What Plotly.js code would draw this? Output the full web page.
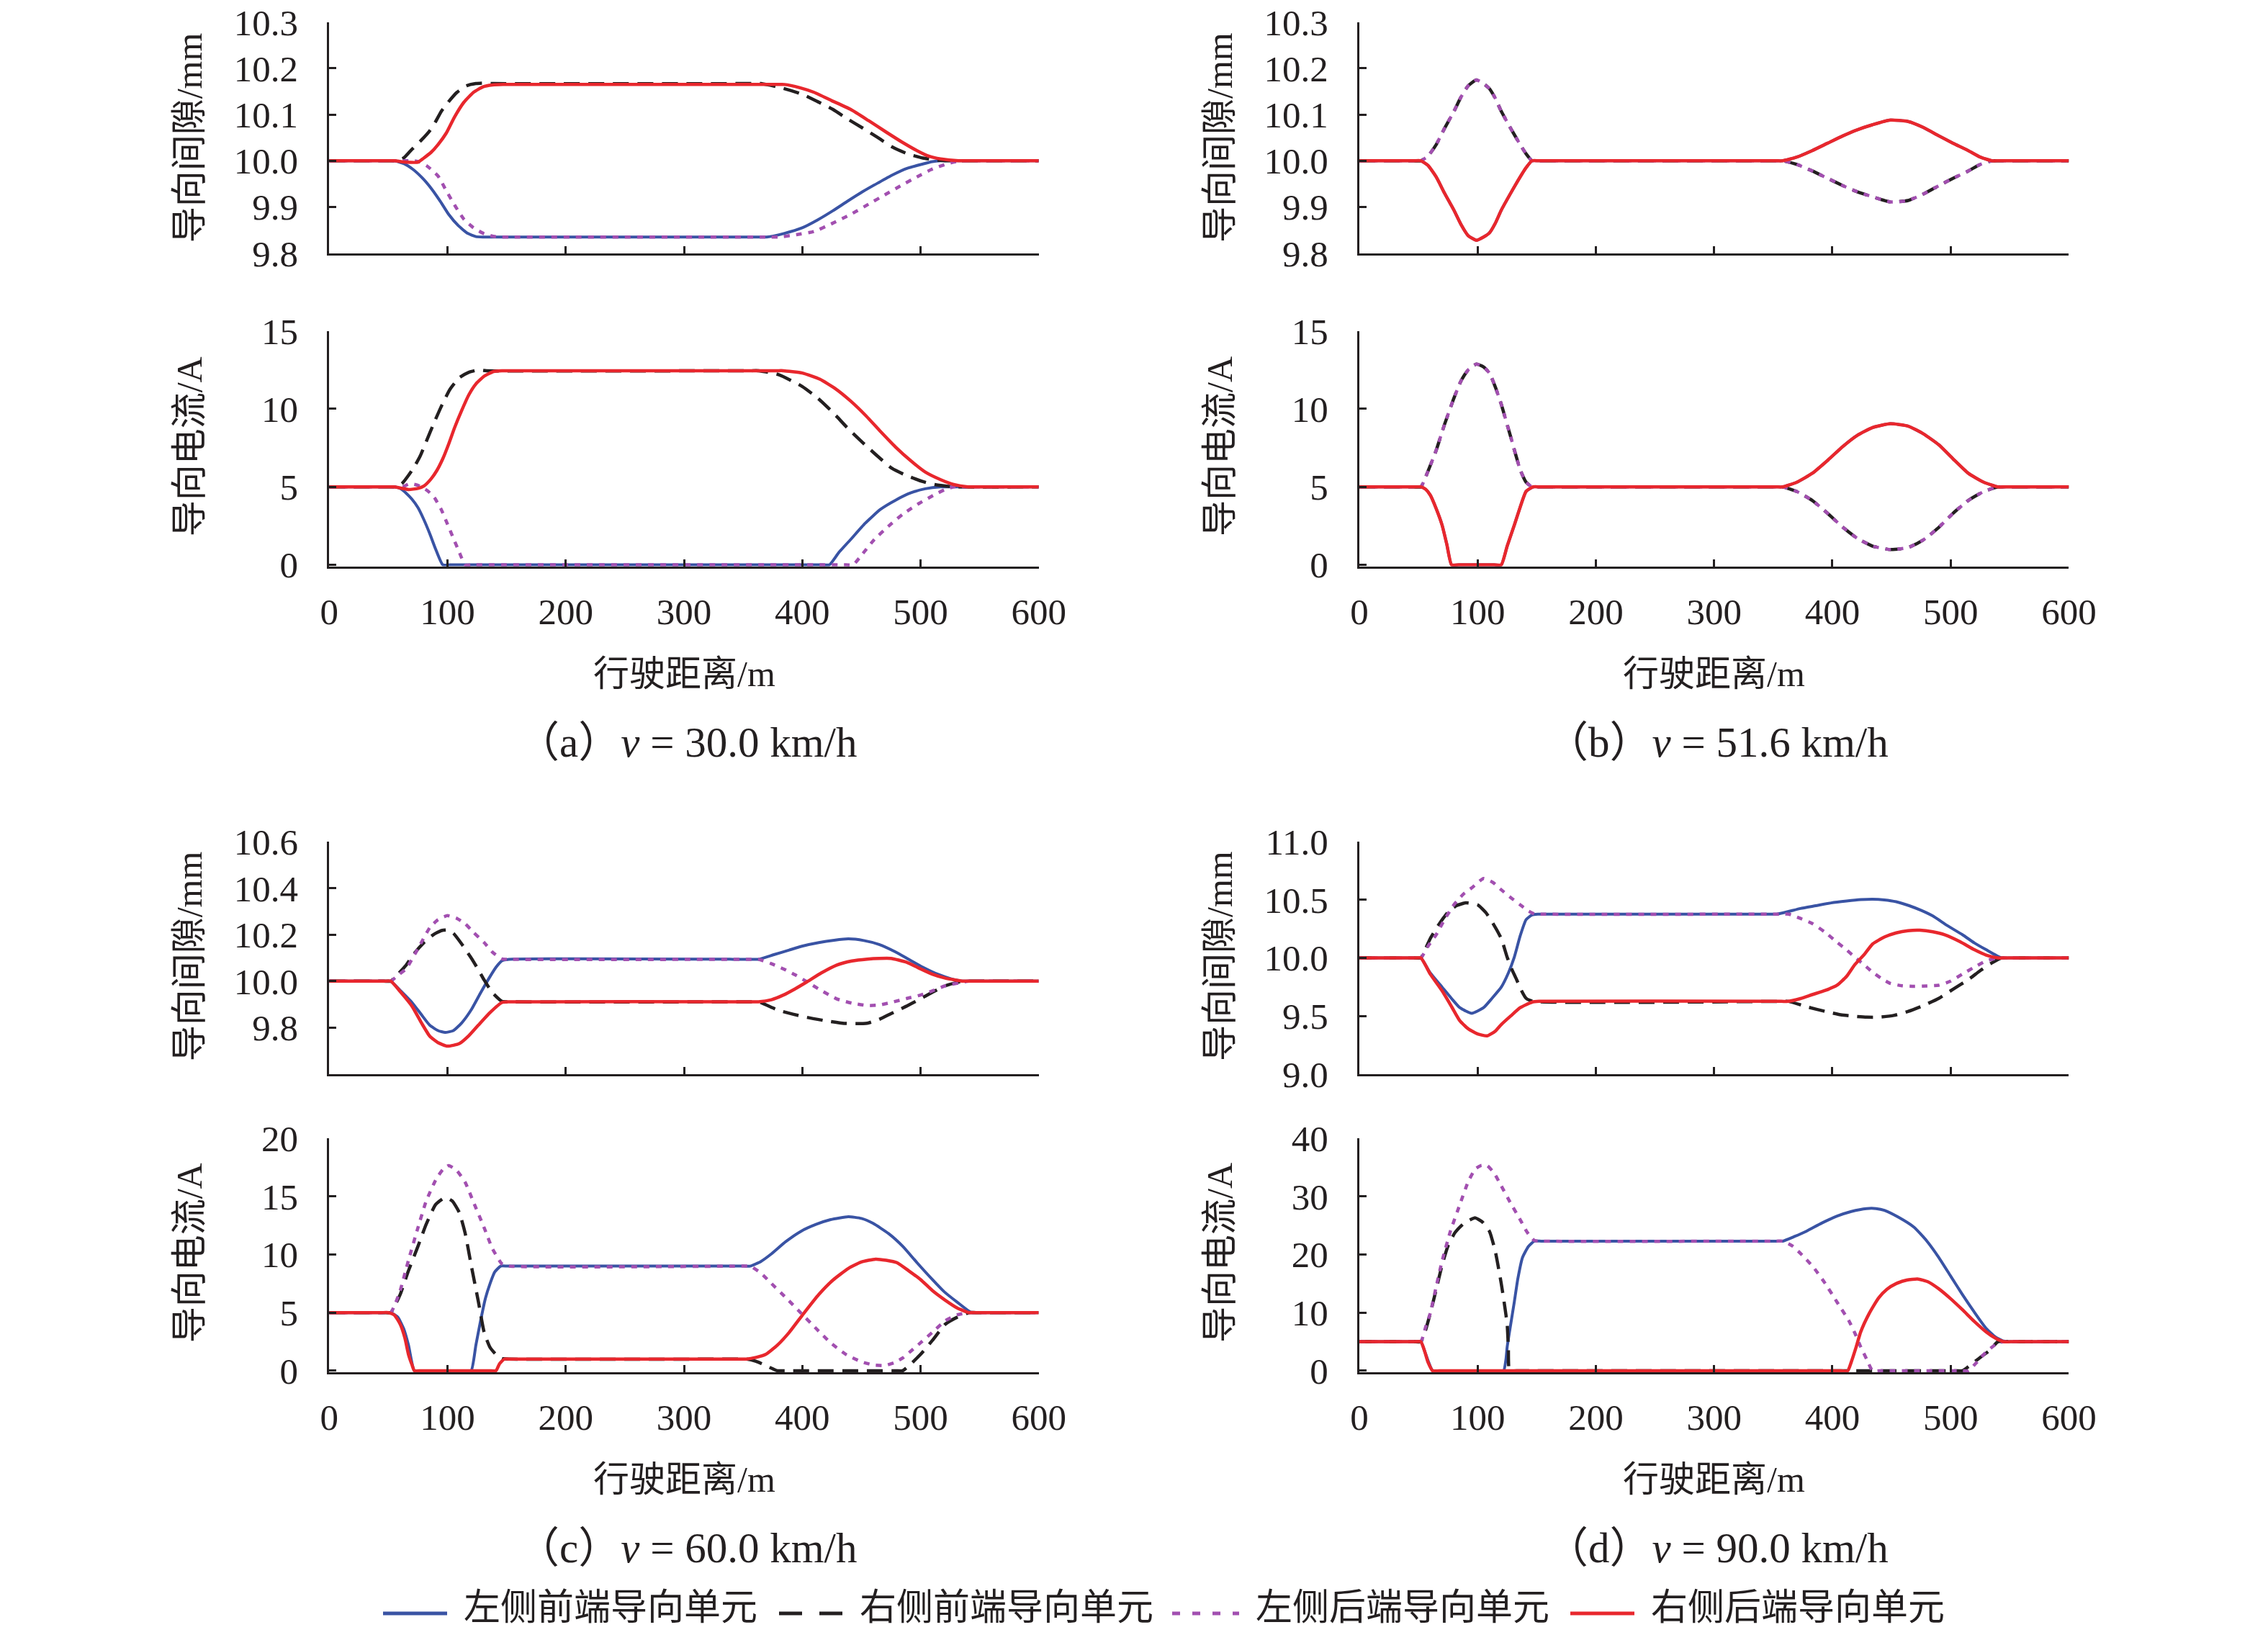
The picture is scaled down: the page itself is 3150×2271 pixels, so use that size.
<!DOCTYPE html>
<html>
<head>
<meta charset="utf-8">
<script src="https://cdn.plot.ly/plotly-3.0.1.min.js"></script>
<style>html,body{margin:0;padding:0;background:#fff;}#chart{width:3150px;height:2271px;}</style>
</head>
<body>
<div id="chart"></div>
<script>
// ---------------- DATA ----------------
// lf = 左侧前端导向单元 (blue), rf = 右侧前端导向单元 (black dashed),
// lr = 左侧后端导向单元 (purple dotted), rr = 右侧后端导向单元 (red)

// (a) v = 30.0 km/h — guide gap (mm)
const a_gap_lf_x = [0,48,55,63,71,79,86,94,101,109,117,124,130,137,363,370,385,400,413,426,438,451,464,476,489,502,510,517,524,600];
const a_gap_lf_y = [10,10,10,9.994,9.981,9.962,9.941,9.912,9.884,9.86,9.843,9.836,9.835,9.835,9.835,9.835,9.843,9.855,9.872,9.892,9.912,9.933,9.952,9.969,9.984,9.993,9.998,10,10,10];
const a_gap_rf_x = [0,50,57,63,70,78,85,90,95,101,108,116,124,132,139,358,365,382,400,413,426,438,451,464,476,489,502,512,522,529,600];
const a_gap_rf_y = [10,10,10,10.006,10.025,10.045,10.065,10.085,10.108,10.128,10.148,10.162,10.167,10.168,10.167,10.167,10.167,10.158,10.144,10.128,10.111,10.091,10.071,10.05,10.03,10.015,10.006,10.002,10,10,10];
const a_gap_lr_x = [0,65,72,76,83,92,99,107,114,122,131,140,146,152,373,380,395,410,425,441,456,471,484,497,509,522,530,537,544,600];
const a_gap_lr_y = [10,10,10,9.998,9.988,9.967,9.935,9.9,9.873,9.855,9.842,9.836,9.835,9.835,9.835,9.835,9.84,9.847,9.864,9.884,9.906,9.928,9.947,9.965,9.981,9.993,9.998,10,10,10];
const a_gap_rr_x = [0,48,55,65,75,80,86,92,99,106,114,122,130,138,147,153,378,385,398,410,425,441,456,471,484,497,507,517,532,539,600];
const a_gap_rr_y = [10,10,10,9.997,9.997,10.006,10.018,10.035,10.06,10.095,10.127,10.148,10.16,10.164,10.165,10.165,10.165,10.165,10.158,10.148,10.13,10.111,10.087,10.062,10.041,10.022,10.01,10.004,10,10,10];
// (a) guide current (A)
const a_cur_lf_x = [0,48,55,60,65,70,75,80,85,90,96,102,417,423,431,441,453,466,479,492,504,517,524,600];
const a_cur_lf_y = [5,5,5,4.9,4.6,4.2,3.67,2.9,2.0,1.0,0,0,0,0,0.8,1.63,2.65,3.55,4.15,4.62,4.88,5,5,5];
const a_cur_rf_x = [0,50,57,62,67,72,77,82,88,95,102,110,118,126,133,356,363,380,400,413,426,438,451,464,476,489,502,512,522,529,600];
const a_cur_rf_y = [5,5,5,5.25,5.74,6.3,7.0,7.9,9.0,10.2,11.25,12.0,12.35,12.5,12.45,12.45,12.45,12.2,11.44,10.7,9.77,8.8,7.85,6.95,6.18,5.7,5.34,5.15,5.05,5,5];
const a_cur_lr_x = [0,55,62,68,75,83,89,95,100,105,110,115,121,437,443,451,461,474,486,499,512,520,528,535,600];
const a_cur_lr_y = [5,5,5,5.2,5.1,4.76,4.3,3.5,2.6,1.7,0.8,0,0,0,0,0.7,1.63,2.55,3.3,3.95,4.5,4.8,5,5,5];
const a_cur_rr_x = [0,48,55,62,67,75,80,86,91,96,101,106,112,118,124,131,139,146,153,378,384,400,415,428,441,454,466,479,492,504,517,528,540,547,600];
const a_cur_rr_y = [5,5,5,4.9,4.83,4.9,5.05,5.5,6.05,6.8,7.75,8.8,9.9,10.9,11.6,12.1,12.4,12.45,12.45,12.45,12.45,12.3,11.9,11.3,10.5,9.55,8.57,7.55,6.66,5.95,5.46,5.15,5,5,5];

// (b) v = 51.6 km/h — guide gap (mm)
const b_gap_lf_x = [0,46,52,58,65,72,80,86,92,99,105,110,115,120,128,136,141,146,152,352,358,370,383,396,409,421,434,449,464,477,490,502,515,525,535,541,600];
const b_gap_lf_y = [10,10,10,9.99,9.965,9.93,9.893,9.862,9.838,9.828,9.835,9.844,9.865,9.893,9.93,9.965,9.985,10,10,10,10,10.008,10.022,10.038,10.054,10.067,10.078,10.088,10.085,10.072,10.054,10.038,10.022,10.008,10,10,10];
const b_gap_rf_x = [0,46,52,58,65,72,80,86,92,99,105,110,115,120,128,136,141,146,152,352,358,370,383,396,409,421,434,449,464,477,490,502,515,525,535,541,600];
const b_gap_rf_y = [10,10,10,10.01,10.035,10.07,10.107,10.138,10.162,10.175,10.167,10.156,10.135,10.107,10.07,10.035,10.015,10,10,10,10,9.992,9.978,9.962,9.946,9.933,9.922,9.911,9.914,9.928,9.946,9.962,9.978,9.992,10,10,10];
const b_gap_lr_x = [0,46,52,58,65,72,80,86,92,99,105,110,115,120,128,136,141,146,152,352,358,370,383,396,409,421,434,449,464,477,490,502,515,525,535,541,600];
const b_gap_lr_y = [10,10,10,10.01,10.035,10.07,10.107,10.138,10.162,10.175,10.167,10.156,10.135,10.107,10.07,10.035,10.015,10,10,10,10,9.992,9.978,9.962,9.946,9.933,9.922,9.911,9.914,9.928,9.946,9.962,9.978,9.992,10,10,10];
const b_gap_rr_x = [0,46,52,58,65,72,80,86,92,99,105,110,115,120,128,136,141,146,152,352,358,370,383,396,409,421,434,449,464,477,490,502,515,525,535,541,600];
const b_gap_rr_y = [10,10,10,9.99,9.965,9.93,9.893,9.862,9.838,9.828,9.835,9.844,9.865,9.893,9.93,9.965,9.985,10,10,10,10,10.008,10.022,10.038,10.054,10.067,10.078,10.088,10.085,10.072,10.054,10.038,10.022,10.008,10,10,10];
// (b) guide current (A)
const b_cur_lf_x = [0,46,52,56,60,65,70,74,78,84,114,120,125,131,136,141,147,153,352,358,370,383,396,409,421,434,449,464,477,490,502,515,528,540,546,600];
const b_cur_lf_y = [5,5,5,4.85,4.47,3.6,2.54,1.3,0,0,0,0,1.2,2.54,3.7,4.71,5,5,5,5,5.3,5.87,6.7,7.6,8.3,8.8,9.05,8.9,8.4,7.7,6.8,5.87,5.3,5,5,5];
const b_cur_rf_x = [0,46,52,58,65,72,80,86,92,99,105,110,115,120,128,136,141,146,152,352,358,370,383,396,409,421,434,449,464,477,490,502,515,528,540,546,600];
const b_cur_rf_y = [5,5,5,6.0,7.35,9.0,10.7,11.8,12.5,12.87,12.7,12.3,11.4,10.3,8.2,6.1,5.3,5,5,5,5,4.7,4.13,3.3,2.4,1.7,1.2,0.98,1.1,1.6,2.4,3.3,4.13,4.7,5,5,5];
const b_cur_lr_x = [0,46,52,58,65,72,80,86,92,99,105,110,115,120,128,136,141,146,152,352,358,370,383,396,409,421,434,449,464,477,490,502,515,528,540,546,600];
const b_cur_lr_y = [5,5,5,6.0,7.35,9.0,10.7,11.8,12.5,12.87,12.7,12.3,11.4,10.3,8.2,6.1,5.3,5,5,5,5,4.7,4.13,3.3,2.4,1.7,1.2,0.98,1.1,1.6,2.4,3.3,4.13,4.7,5,5,5];
const b_cur_rr_x = [0,46,52,56,60,65,70,74,78,84,114,120,125,131,136,141,147,153,352,358,370,383,396,409,421,434,449,464,477,490,502,515,528,540,546,600];
const b_cur_rr_y = [5,5,5,4.85,4.47,3.6,2.54,1.3,0,0,0,0,1.2,2.54,3.7,4.71,5,5,5,5,5.3,5.87,6.7,7.6,8.3,8.8,9.05,8.9,8.4,7.7,6.8,5.87,5.3,5,5,5];

// (c) v = 60.0 km/h — guide gap (mm)
const c_gap_lf_x = [0,46,52,60,70,78,85,92,98,105,112,120,128,136,141,146,152,357,363,376,389,401,414,427,439,452,465,478,490,502,515,526,536,542,600];
const c_gap_lf_y = [10,10,10,9.96,9.908,9.855,9.81,9.787,9.779,9.787,9.82,9.876,9.95,10.02,10.06,10.088,10.094,10.094,10.094,10.114,10.134,10.152,10.166,10.176,10.182,10.175,10.158,10.128,10.094,10.06,10.029,10.01,10,10,10];
const c_gap_rf_x = [0,46,52,58,65,72,80,88,95,100,105,112,120,126,131,138,146,152,357,363,379,392,404,419,434,445,455,465,475,488,500,510,521,536,542,600];
const c_gap_rf_y = [10,10,10,10.03,10.069,10.12,10.166,10.2,10.218,10.22,10.206,10.16,10.1,10.05,10.005,9.95,9.913,9.911,9.911,9.911,9.876,9.858,9.844,9.83,9.819,9.817,9.819,9.835,9.86,9.892,9.924,9.952,9.98,10,10,10];
const c_gap_lr_x = [0,46,52,58,65,75,85,92,100,108,115,122,131,138,146,152,357,363,374,384,394,404,416,429,442,455,465,475,488,500,510,521,541,547,600];
const c_gap_lr_y = [10,10,10,10.025,10.053,10.14,10.23,10.265,10.282,10.27,10.247,10.21,10.166,10.125,10.096,10.094,10.094,10.094,10.075,10.053,10.027,9.997,9.96,9.924,9.905,9.895,9.897,9.908,9.925,9.94,9.958,9.98,10,10,10];
const c_gap_rr_x = [0,46,52,60,70,78,85,92,100,110,118,126,136,146,152,357,363,374,384,394,404,416,429,442,455,465,475,488,500,510,521,536,542,600];
const c_gap_rr_y = [10,10,10,9.955,9.892,9.82,9.763,9.735,9.72,9.731,9.765,9.81,9.865,9.908,9.911,9.911,9.911,9.92,9.94,9.967,9.997,10.035,10.069,10.087,10.095,10.098,10.098,10.082,10.053,10.03,10.013,10,10,10];
// (c) guide current (A)
const c_cur_lf_x = [0,46,52,58,63,67,72,78,114,120,124,128,132,136,140,145,151,350,356,365,374,386,399,412,424,439,450,460,473,485,497,510,520,531,543,549,600];
const c_cur_lf_y = [5,5,5,4.6,3.6,2.2,0,0,0,0,2.2,4.3,6.2,7.5,8.5,9.0,9.0,9.0,9.0,9.4,10.06,11.1,12.0,12.6,13.0,13.25,13.1,12.67,11.8,10.7,9.3,7.85,6.8,5.9,5,5,5];
const c_cur_rf_x = [0,46,52,56,60,67,75,82,90,98,104,110,115,120,126,131,136,141,146,152,347,353,361,369,379,385,479,485,492,500,510,521,531,541,547,600];
const c_cur_rf_y = [5,5,5,5.7,6.56,8.6,10.7,12.6,14.3,14.9,14.6,13.6,11.8,9.1,6.0,3.3,2.0,1.4,1.05,1.0,1.0,1.0,0.8,0.45,0,0,0,0,0.6,1.4,2.6,4.0,4.6,5,5,5];
const c_cur_lr_x = [0,46,52,56,60,67,75,82,90,96,101,108,115,122,131,138,146,152,350,356,365,374,386,399,412,424,437,450,460,470,478,485,492,500,510,521,531,541,547,600];
const c_cur_lr_y = [5,5,5,5.8,6.9,9.5,12.3,14.6,16.4,17.3,17.65,17.2,16.2,14.5,12.3,10.5,9.2,9.0,9.0,9.0,8.4,7.5,6.3,4.95,3.6,2.4,1.4,0.77,0.5,0.45,0.7,1.1,1.7,2.4,3.3,4.3,4.8,5,5,5];
const c_cur_rr_x = [0,44,50,55,60,64,67,70,72,78,135,141,144,148,154,347,353,361,369,379,389,401,414,426,439,450,462,471,480,490,500,510,521,531,541,547,600];
const c_cur_rr_y = [5,5,5,4.8,4.0,2.8,1.4,0.5,0,0,0,0,0.6,1.0,1.0,1.0,1.0,1.15,1.4,2.2,3.3,4.9,6.56,7.8,8.8,9.35,9.6,9.5,9.3,8.6,7.85,6.9,6.06,5.4,5,5,5];

// (d) v = 90.0 km/h — guide gap (mm)
const d_gap_lf_x = [0,46,52,60,70,78,85,95,105,112,120,126,131,136,141,146,151,157,347,353,363,373,386,399,412,424,434,444,454,465,475,485,497,510,520,530,543,549,600];
const d_gap_lf_y = [10,10,10,9.87,9.748,9.65,9.571,9.523,9.571,9.65,9.748,9.87,10.006,10.19,10.33,10.37,10.377,10.377,10.377,10.377,10.4,10.426,10.45,10.474,10.49,10.502,10.506,10.5,10.484,10.45,10.41,10.361,10.28,10.2,10.13,10.071,10,10,10];
const d_gap_rf_x = [0,46,52,56,60,68,75,82,90,100,107,113,120,125,129,133,137,141,147,357,363,378,394,407,419,429,439,452,464,477,490,502,515,525,535,543,549,600];
const d_gap_rf_y = [10,10,10,10.08,10.168,10.3,10.394,10.45,10.474,10.458,10.39,10.297,10.168,10.006,9.9,9.813,9.72,9.652,9.626,9.626,9.626,9.58,9.539,9.51,9.497,9.49,9.49,9.505,9.539,9.59,9.652,9.73,9.813,9.89,9.958,10,10,10];
const d_gap_lr_x = [0,46,52,58,65,72,80,88,95,105,113,120,128,136,142,148,154,357,363,373,383,394,404,412,419,427,434,442,449,459,469,480,490,500,510,520,530,540,546,600];
const d_gap_lr_y = [10,10,10,10.1,10.2,10.33,10.458,10.55,10.603,10.684,10.65,10.587,10.52,10.458,10.41,10.38,10.377,10.377,10.377,10.34,10.297,10.22,10.135,10.07,10.006,9.94,9.877,9.82,9.781,9.76,9.755,9.758,9.765,9.8,9.861,9.92,9.974,10,10,10];
const d_gap_rr_x = [0,46,52,60,70,78,85,92,100,108,115,120,128,136,146,152,357,363,373,383,394,404,412,419,427,434,444,454,464,474,485,495,508,520,530,540,546,600];
const d_gap_rr_y = [10,10,10,9.86,9.716,9.58,9.458,9.39,9.345,9.329,9.37,9.426,9.5,9.571,9.619,9.626,9.626,9.626,9.65,9.684,9.72,9.765,9.84,9.942,10.03,10.12,10.18,10.216,10.235,10.239,10.225,10.2,10.14,10.071,10.025,10,10,10];
// (d) guide current (A)
const d_cur_lf_x = [0,46,52,55,58,62,68,116,122,124,125,128,131,134,138,143,148,154,352,358,368,378,391,404,416,429,437,444,456,469,480,490,500,510,520,530,538,545,551,600];
const d_cur_lf_y = [5,5,5,3.5,1.8,0,0,0,0,2.0,4.1,8.0,11.8,15.8,19.5,21.4,22.3,22.3,22.3,22.3,23.1,24.0,25.4,26.6,27.4,27.9,27.9,27.6,26.4,24.7,22.3,19.5,16.3,13.1,10.1,7.3,5.8,5.1,5,5];
const d_cur_rf_x = [0,46,52,56,60,65,70,75,81,88,94,98,104,110,115,120,123,125,126,127,133,504,510,515,520,527,533,540,546,600];
const d_cur_rf_y = [5,5,5,7.0,9.9,14.0,18.2,21.5,23.8,25.3,26.0,26.3,25.6,24.0,20.5,15.0,11.0,8.0,4.0,0,0,0,0,0.7,1.5,2.6,3.5,5,5,5];
const d_cur_lr_x = [0,46,52,56,60,65,70,77,85,92,98,103,108,114,120,128,136,142,148,154,352,358,366,373,384,394,404,414,419,424,429,434,440,509,515,521,528,534,540,546,600];
const d_cur_lr_y = [5,5,5,7.5,9.9,14.5,18.9,24.0,28.6,32.5,34.7,35.3,35.3,34.0,31.8,28.8,26.0,23.8,22.4,22.3,22.3,22.3,21.5,20.2,17.8,15.0,11.8,8.6,6.5,4.1,2.0,0,0,0,0,1.2,2.8,3.9,4.8,5,5];
const d_cur_rr_x = [0,46,52,55,58,62,68,407,413,416,420,424,431,439,446,454,463,472,481,490,500,510,520,530,538,545,551,600];
const d_cur_rr_y = [5,5,5,3.5,1.5,0,0,0,0,1.5,4.0,6.7,9.8,12.5,14.0,15.0,15.6,15.8,15.3,14.1,12.4,10.5,8.5,6.7,5.6,5,5,5];

// axis ticks / labels
const x_ticks = [0,100,200,300,400,500,600];
const a_gap_ticks = [9.8,9.9,10.0,10.1,10.2,10.3];
const a_cur_ticks = [0,5,10,15];
const c_gap_ticks = [9.8,10.0,10.2,10.4,10.6];
const c_cur_ticks = [0,5,10,15,20];
const d_gap_ticks = [9.0,9.5,10.0,10.5,11.0];
const d_cur_ticks = [0,10,20,30,40];
const series_names = ['左侧前端导向单元','右侧前端导向单元','左侧后端导向单元','右侧后端导向单元'];
const captions = ['（a）<i>v</i> = 30.0 km/h','（b）<i>v</i> = 51.6 km/h','（c）<i>v</i> = 60.0 km/h','（d）<i>v</i> = 90.0 km/h'];
const gap_title = '导向间隙/mm';
const cur_title = '导向电流/A';
const x_title = '行驶距离/m';

// ---------------- STYLE / LAYOUT ----------------
const W = 3150, H = 2271;
const FONT = 'Liberation Serif, "Times New Roman", "Noto Sans CJK SC", serif';
const FS = 50;
const INK = '#231f20';
const styles = [
  {color:'#3953a4', width:4,   dash:'solid',     legDash:'solid'},
  {color:'#231f20', width:4.5, dash:'22px,12px', legDash:'32px,24px'},
  {color:'#a24fb0', width:4.5, dash:'8px,9px',   legDash:'11px,17px'},
  {color:'#e8272d', width:4.5, dash:'solid',     legDash:'solid'}
];
const px = v => v / W;
const py = v => 1 - v / H;

const colX = [[457.3, 1442.7], [1888, 2873.4]];
const rowGap = [[30.7, 351.7], [1169.3, 1491.8]];
const rowCur = [[459.7, 786.7], [1581, 1906]];

const panels = [
  {col:0, row:0, gx:[a_gap_lf_x,a_gap_rf_x,a_gap_lr_x,a_gap_rr_x], gy:[a_gap_lf_y,a_gap_rf_y,a_gap_lr_y,a_gap_rr_y],
   cx:[a_cur_lf_x,a_cur_rf_x,a_cur_lr_x,a_cur_rr_x], cy:[a_cur_lf_y,a_cur_rf_y,a_cur_lr_y,a_cur_rr_y],
   grange:[9.8,10.3], gticks:a_gap_ticks, crange:[-0.1,15], cticks:a_cur_ticks},
  {col:1, row:0, gx:[b_gap_lf_x,b_gap_rf_x,b_gap_lr_x,b_gap_rr_x], gy:[b_gap_lf_y,b_gap_rf_y,b_gap_lr_y,b_gap_rr_y],
   cx:[b_cur_lf_x,b_cur_rf_x,b_cur_lr_x,b_cur_rr_x], cy:[b_cur_lf_y,b_cur_rf_y,b_cur_lr_y,b_cur_rr_y],
   grange:[9.8,10.3], gticks:a_gap_ticks, crange:[-0.1,15], cticks:a_cur_ticks},
  {col:0, row:1, gx:[c_gap_lf_x,c_gap_rf_x,c_gap_lr_x,c_gap_rr_x], gy:[c_gap_lf_y,c_gap_rf_y,c_gap_lr_y,c_gap_rr_y],
   cx:[c_cur_lf_x,c_cur_rf_x,c_cur_lr_x,c_cur_rr_x], cy:[c_cur_lf_y,c_cur_rf_y,c_cur_lr_y,c_cur_rr_y],
   grange:[9.6,10.6], gticks:c_gap_ticks, crange:[-0.13,20], cticks:c_cur_ticks},
  {col:1, row:1, gx:[d_gap_lf_x,d_gap_rf_x,d_gap_lr_x,d_gap_rr_x], gy:[d_gap_lf_y,d_gap_rf_y,d_gap_lr_y,d_gap_rr_y],
   cx:[d_cur_lf_x,d_cur_rf_x,d_cur_lr_x,d_cur_rr_x], cy:[d_cur_lf_y,d_cur_rf_y,d_cur_lr_y,d_cur_rr_y],
   grange:[9.0,11.0], gticks:d_gap_ticks, crange:[-0.25,40], cticks:d_cur_ticks}
];

const traces = [];
const layout = {
  width: W, height: H,
  margin: {l:0, r:0, t:0, b:0},
  paper_bgcolor: '#fff', plot_bgcolor: 'rgba(0,0,0,0)',
  font: {family: FONT, size: FS, color: INK},
  showlegend: false,
  annotations: [],
  shapes: []
};

function xaxisDef(col, yname, showLabels) {
  return {domain:[px(colX[col][0]), px(colX[col][1])], anchor: yname, range:[0,600],
    tickmode:'array', tickvals: x_ticks, showticklabels: showLabels,
    ticks:'inside', ticklen:10, tickwidth:3, tickcolor:INK,
    showline:true, linewidth:3, linecolor:INK, showgrid:false, zeroline:false,
    ticklabelstandoff: 16, tickfont:{family:FONT, size:51, color:INK}, fixedrange:true};
}
function yaxisDef(rowPix, xname, range, ticks, fmt) {
  return {domain:[py(rowPix[1]), py(rowPix[0])], anchor: xname, range: range,
    tickmode:'array', tickvals: ticks, tickformat: fmt,
    ticks:'inside', ticklen:10, tickwidth:3, tickcolor:INK,
    showline:true, linewidth:3, linecolor:INK, showgrid:false, zeroline:false,
    ticklabelstandoff: 30, tickfont:{family:FONT, size:51, color:INK}, fixedrange:true};
}

const ann = (text, x, y, opts) => layout.annotations.push(Object.assign({text, x: px(x), y: py(y), xref:'paper', yref:'paper',
    xanchor:'center', yanchor:'middle', showarrow:false, textangle: 0,
    font:{family:FONT, size:FS, color:INK}}, opts || {}));

panels.forEach((p, i) => {
  const n1 = 2*i + 1, n2 = 2*i + 2;
  const xg = 'x' + n1, yg = 'y' + n1, xc = 'x' + n2, yc = 'y' + n2;
  layout['xaxis' + n1] = xaxisDef(p.col, yg, false);
  layout['yaxis' + n1] = yaxisDef(rowGap[p.row], xg, p.grange, p.gticks, '.1f');
  layout['xaxis' + n2] = xaxisDef(p.col, yc, true);
  layout['yaxis' + n2] = yaxisDef(rowCur[p.row], xc, p.crange, p.cticks, 'd');
  for (let s = 0; s < 4; s++) {
    traces.push({type:'scatter', mode:'lines', x: p.gx[s], y: p.gy[s], xaxis: xg, yaxis: yg,
      name: series_names[s], legendgroup: 'g' + s,
      line: {color: styles[s].color, width: styles[s].width, dash: styles[s].dash, shape:'spline', smoothing:0.5},
      hoverinfo:'skip'});
  }
  for (let s = 0; s < 4; s++) {
    traces.push({type:'scatter', mode:'lines', x: p.cx[s], y: p.cy[s], xaxis: xc, yaxis: yc,
      name: series_names[s], legendgroup: 'g' + s,
      line: {color: styles[s].color, width: styles[s].width, dash: styles[s].dash, shape:'spline', smoothing:0.5},
      hoverinfo:'skip'});
  }
  const cx = (colX[p.col][0] + colX[p.col][1]) / 2;
  const axX = colX[p.col][0];
  const gapMid = p.row === 0 ? 191 : 1328;
  const curMid = p.row === 0 ? 620 : 1740;
  const xtY = p.row === 0 ? 936 : 2055;
  const capY = p.row === 0 ? 1031 : 2150;
  ann(gap_title, axX - 194, gapMid, {textangle:-90});
  ann(cur_title, axX - 194, curMid, {textangle:-90});
  ann(x_title, cx, xtY);
  ann(captions[i], cx + 4, capY, {font:{family:FONT, size:59, color:INK}});
});

// legend row (drawn as line samples + labels)
const legSample = [[532,621],[1082,1171],[1628,1721],[2181,2270]];
const legText = [643,1193,1743,2292];
const legLineY = 2241;
const legTextY = 2233;
for (let s = 0; s < 4; s++) {
  layout.shapes.push({type:'line', xref:'paper', yref:'paper',
    x0: px(legSample[s][0]), x1: px(legSample[s][1]), y0: py(legLineY), y1: py(legLineY),
    line:{color: styles[s].color, width: 5, dash: styles[s].legDash}});
  ann(series_names[s], legText[s], legTextY, {xanchor:'left', borderpad:0, font:{family:FONT, size:51, color:INK}});
}

Plotly.newPlot('chart', traces, layout, {staticPlot:true, displayModeBar:false});
</script>
</body>
</html>
